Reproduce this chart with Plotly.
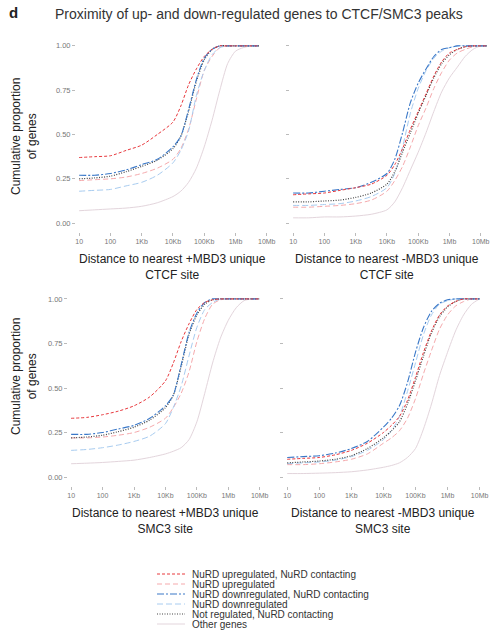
import plotly.graph_objects as go

# ---------------- data ----------------
DIST = [10, 31.6, 100, 316, 1e3, 3.16e3, 1e4, 1.78e4, 3.16e4, 5.62e4, 1e5,
        1.78e5, 3.16e5, 5.62e5, 1e6, 1.78e6, 3.16e6, 5.62e6, 1e7, 1.58e7]

TICK_VALS = [10, 100, 1e3, 1e4, 1e5, 1e6, 1e7]
TICK_TEXT = ["10", "100", "1Kb", "10Kb", "100Kb", "1Mb", "10Mb"]
Y_TICKS = [0, 0.25, 0.5, 0.75, 1.0]
Y_TEXT = ["0.00", "0.25", "0.50", "0.75", "1.00"]

SERIES = ["NuRD upregulated, NuRD contacting", "NuRD upregulated",
          "NuRD downregulated, NuRD contacting", "NuRD downregulated",
          "Not regulated, NuRD contacting", "Other genes"]

# +MBD3 unique CTCF
tl_up_c = [0.37, 0.375, 0.38, 0.41, 0.44, 0.50, 0.57, 0.66, 0.78, 0.87, 0.94, 0.98, 1.0, 1.0, 1.0, 1.0, 1.0, 1.0]
tl_up = [0.24, 0.245, 0.25, 0.26, 0.28, 0.31, 0.36, 0.42, 0.53, 0.70, 0.86, 0.94, 0.99, 1.0, 1.0, 1.0, 1.0, 1.0]
tl_down_c = [0.27, 0.27, 0.28, 0.30, 0.33, 0.36, 0.43, 0.49, 0.64, 0.81, 0.93, 0.98, 1.0, 1.0, 1.0, 1.0, 1.0, 1.0]
tl_down = [0.18, 0.185, 0.19, 0.21, 0.23, 0.27, 0.34, 0.41, 0.52, 0.72, 0.86, 0.95, 0.99, 1.0, 1.0, 1.0, 1.0, 1.0]
tl_notreg = [0.25, 0.255, 0.265, 0.29, 0.32, 0.355, 0.42, 0.49, 0.63, 0.80, 0.92, 0.98, 1.0, 1.0, 1.0, 1.0, 1.0, 1.0]
tl_other = [0.07, 0.075, 0.08, 0.085, 0.095, 0.115, 0.15, 0.18, 0.23, 0.31, 0.43, 0.58, 0.75, 0.90, 0.97, 0.99, 1.0, 1.0]

# -MBD3 unique CTCF
tr_up_c = [0.16, 0.165, 0.17, 0.185, 0.20, 0.22, 0.27, 0.33, 0.42, 0.53, 0.63, 0.73, 0.83, 0.91, 0.96, 0.98, 0.995, 1.0, 1.0, 1.0]
tr_up = [0.09, 0.09, 0.095, 0.10, 0.11, 0.13, 0.18, 0.24, 0.32, 0.43, 0.55, 0.65, 0.76, 0.85, 0.92, 0.96, 0.98, 0.995, 1.0, 1.0]
tr_down_c = [0.17, 0.17, 0.18, 0.19, 0.20, 0.23, 0.28, 0.36, 0.51, 0.68, 0.79, 0.87, 0.94, 0.98, 0.99, 1.0, 1.0, 1.0, 1.0, 1.0]
tr_down = [0.10, 0.10, 0.105, 0.11, 0.125, 0.15, 0.20, 0.28, 0.43, 0.62, 0.76, 0.86, 0.93, 0.97, 0.99, 1.0, 1.0, 1.0, 1.0, 1.0]
tr_notreg = [0.12, 0.12, 0.125, 0.13, 0.145, 0.17, 0.22, 0.29, 0.40, 0.51, 0.62, 0.72, 0.82, 0.90, 0.95, 0.98, 0.995, 1.0, 1.0, 1.0]
tr_other = [0.03, 0.03, 0.035, 0.035, 0.04, 0.05, 0.075, 0.12, 0.20, 0.30, 0.40, 0.51, 0.63, 0.74, 0.82, 0.88, 0.94, 0.98, 1.0, 1.0]

# +MBD3 unique SMC3
bl_up_c = [0.33, 0.335, 0.35, 0.37, 0.40, 0.45, 0.54, 0.64, 0.76, 0.86, 0.94, 0.98, 0.995, 1.0, 1.0, 1.0, 1.0, 1.0, 1.0]
bl_up = [0.22, 0.22, 0.225, 0.235, 0.25, 0.28, 0.33, 0.39, 0.47, 0.59, 0.76, 0.89, 0.97, 0.995, 1.0, 1.0, 1.0, 1.0, 1.0]
bl_down_c = [0.24, 0.24, 0.25, 0.27, 0.29, 0.33, 0.40, 0.46, 0.63, 0.81, 0.92, 0.98, 1.0, 1.0, 1.0, 1.0, 1.0, 1.0, 1.0]
bl_down = [0.15, 0.155, 0.165, 0.18, 0.20, 0.23, 0.30, 0.39, 0.51, 0.68, 0.84, 0.94, 0.98, 1.0, 1.0, 1.0, 1.0, 1.0, 1.0]
bl_notreg = [0.22, 0.225, 0.235, 0.255, 0.28, 0.32, 0.39, 0.46, 0.62, 0.80, 0.91, 0.97, 0.995, 1.0, 1.0, 1.0, 1.0, 1.0, 1.0]
bl_other = [0.075, 0.078, 0.082, 0.088, 0.095, 0.11, 0.13, 0.145, 0.165, 0.21, 0.31, 0.47, 0.64, 0.78, 0.88, 0.95, 0.99, 1.0, 1.0]

# -MBD3 unique SMC3
br_up_c = [0.10, 0.105, 0.11, 0.125, 0.15, 0.19, 0.25, 0.29, 0.34, 0.43, 0.56, 0.70, 0.82, 0.91, 0.96, 0.985, 1.0, 1.0, 1.0]
br_up = [0.07, 0.07, 0.075, 0.085, 0.10, 0.13, 0.19, 0.22, 0.26, 0.33, 0.44, 0.58, 0.71, 0.83, 0.91, 0.96, 0.985, 1.0, 1.0]
br_down_c = [0.11, 0.115, 0.12, 0.135, 0.16, 0.20, 0.28, 0.33, 0.40, 0.53, 0.70, 0.84, 0.93, 0.975, 0.995, 1.0, 1.0, 1.0, 1.0]
br_down = [0.075, 0.08, 0.085, 0.095, 0.115, 0.15, 0.21, 0.26, 0.34, 0.48, 0.64, 0.80, 0.91, 0.97, 0.99, 1.0, 1.0, 1.0, 1.0]
br_notreg = [0.08, 0.085, 0.09, 0.10, 0.12, 0.16, 0.22, 0.26, 0.31, 0.41, 0.54, 0.68, 0.81, 0.90, 0.955, 0.985, 1.0, 1.0, 1.0]
br_other = [0.02, 0.02, 0.022, 0.025, 0.03, 0.04, 0.055, 0.065, 0.08, 0.11, 0.16, 0.27, 0.41, 0.57, 0.70, 0.82, 0.91, 0.97, 1.0]

PANELS = [
    ("tl", "Distance to nearest +MBD3 unique<br>CTCF site",
     [tl_up_c, tl_up, tl_down_c, tl_down, tl_notreg, tl_other]),
    ("tr", "Distance to nearest -MBD3 unique<br>CTCF site",
     [tr_up_c, tr_up, tr_down_c, tr_down, tr_notreg, tr_other]),
    ("bl", "Distance to nearest +MBD3 unique<br>SMC3 site",
     [bl_up_c, bl_up, bl_down_c, bl_down, bl_notreg, bl_other]),
    ("br", "Distance to nearest -MBD3 unique<br>SMC3 site",
     [br_up_c, br_up, br_down_c, br_down, br_notreg, br_other]),
]

# ---------------- styles ----------------
W, H = 498, 637
COLORS = ["#e8383d", "#f5a9ac", "#3a78c8", "#a8ccf0", "#444444", "#e3d5dc"]
DASHES = ["3px,2px", "5px,3px", "7px,2px,2px,2px", "6px,3px", "1px,1.5px", "solid"]
WIDTHS = [1.0, 1.0, 1.1, 1.0, 1.2, 1.0]
FONT = "Liberation Sans, Arial, sans-serif"

# panel placement in pixels: (x0, x1, y0_top, y1_bottom)
BOX = {
    "tl": (76, 273, 37, 232),
    "tr": (290, 487, 37, 232),
    "bl": (68, 266, 290, 486),
    "br": (284, 486, 290, 486),
}

fig = go.Figure()
layout = dict(
    template="none",
    width=W, height=H, margin=dict(l=0, r=0, t=0, b=0, pad=0),
    paper_bgcolor="white", plot_bgcolor="white", showlegend=False,
    font=dict(family=FONT, color="#222"),
)
annotations = []
shapes = []

for i, (key, xtitle, ys) in enumerate(PANELS):
    n = i + 1
    suffix = "" if n == 1 else str(n)
    x0, x1, yt, yb = BOX[key]
    xa = dict(
        domain=[x0 / W, x1 / W], type="log", range=[0.9, 7.2],
        tickvals=TICK_VALS, ticktext=TICK_TEXT, ticks="outside", ticklen=3,
        tickcolor="#aaaaaa", tickwidth=0.8, showgrid=False, zeroline=False,
        showline=False, tickfont=dict(size=7, color="#777777", family=FONT),
        anchor="y" + suffix, automargin=False,
    )
    ya = dict(
        domain=[1 - yb / H, 1 - yt / H], range=[-0.05, 1.05],
        tickvals=Y_TICKS, ticktext=Y_TEXT, ticks="outside", ticklen=3,
        tickcolor="#aaaaaa", tickwidth=0.8, showgrid=False, zeroline=False,
        showline=False, showticklabels=key in ("tl", "bl"),
        tickfont=dict(size=7.5, color="#777777", family=FONT),
        anchor="x" + suffix, automargin=False,
    )
    layout["xaxis" + suffix] = xa
    layout["yaxis" + suffix] = ya
    # draw "other genes" first, then the rest
    order = [5, 1, 3, 4, 2, 0]
    for s in order:
        y = ys[s]
        fig.add_trace(go.Scatter(
            x=DIST[:len(y)], y=y, mode="lines", name=SERIES[s],
            line=dict(color=COLORS[s], dash=DASHES[s], width=WIDTHS[s],
                      shape="spline", smoothing=0.7),
            xaxis="x" + suffix, yaxis="y" + suffix, hoverinfo="skip",
        ))
    # x axis title
    cx = (x0 + x1) / 2 - 2
    annotations.append(dict(
        text=xtitle, x=cx / W, y=1 - (yb + 18) / H, xref="paper", yref="paper",
        xanchor="center", yanchor="top", showarrow=False,
        font=dict(size=12, color="#222", family=FONT), align="center",
    ))

# y axis titles
for yc in (137, 377):
    annotations.append(dict(
        text="Cumulative proportion<br>of genes", x=24 / W, y=1 - yc / H,
        xref="paper", yref="paper", xanchor="center", yanchor="middle",
        textangle=-90, showarrow=False,
        font=dict(size=12, color="#222", family=FONT),
    ))

# title and panel letter
annotations.append(dict(
    text="Proximity of up- and down-regulated genes to CTCF/SMC3 peaks",
    x=53 / W, y=1 - 14 / H, xref="paper", yref="paper", xanchor="left",
    yanchor="middle", showarrow=False,
    font=dict(size=14, color="#333", family=FONT),
))
annotations.append(dict(
    text="<b>d</b>", x=7 / W, y=1 - 12 / H, xref="paper", yref="paper",
    xanchor="left", yanchor="middle", showarrow=False,
    font=dict(size=15, color="#222", family=FONT),
))

# legend (drawn manually to match the compact spacing)
for k, name in enumerate(SERIES):
    ypx = 574 + 10 * k
    shapes.append(dict(
        type="line", xref="paper", yref="paper",
        x0=157 / W, x1=185 / W, y0=1 - ypx / H, y1=1 - ypx / H,
        line=dict(color=COLORS[k], dash=DASHES[k], width=WIDTHS[k]),
    ))
    annotations.append(dict(
        text=name, x=190 / W, y=1 - ypx / H, xref="paper", yref="paper",
        xanchor="left", yanchor="middle", showarrow=False,
        font=dict(size=10, color="#333", family=FONT),
    ))

layout["annotations"] = annotations
layout["shapes"] = shapes
fig.update_layout(**layout)
fig.write_html(
    "out.html",
    config={"displayModeBar": False, "staticPlot": True},
    post_script="document.body.style.margin='0';document.body.style.overflow='hidden';",
)
